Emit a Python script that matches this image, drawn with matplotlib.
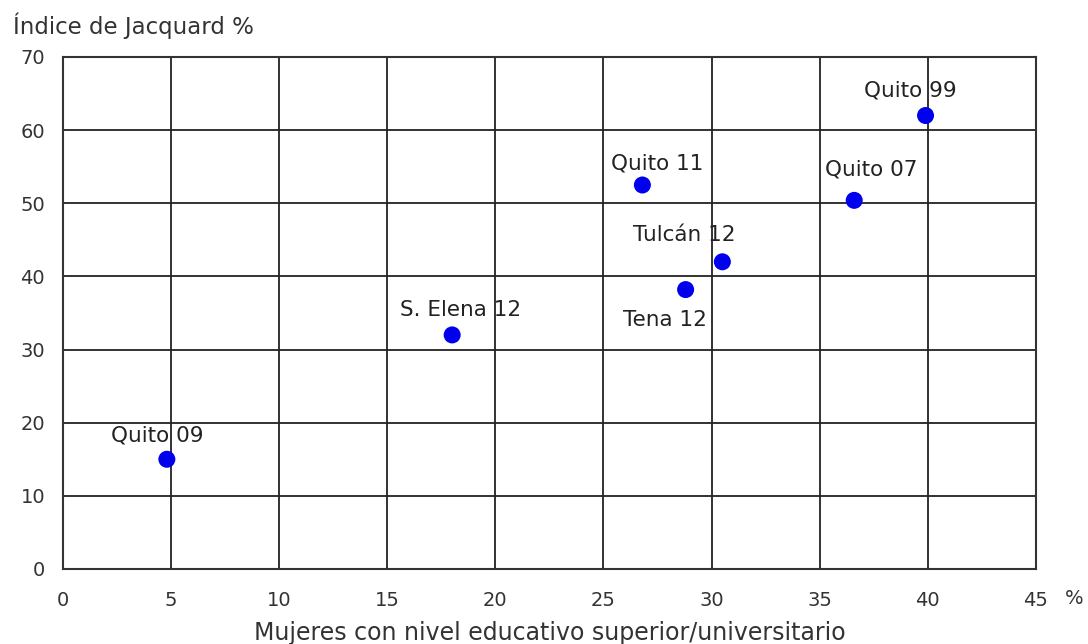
import matplotlib.pyplot as plt

# data
names = ['Quito 09', 'S. Elena 12', 'Quito 11', 'Tena 12', 'Tulcán 12', 'Quito 07', 'Quito 99']
mujeres = [4.8, 18.0, 26.8, 28.8, 30.5, 36.6, 39.9]
jacquard = [15.0, 32.0, 52.5, 38.2, 42.0, 50.4, 62.0]
# label offsets in pixels (dx, dy)
offsets = [(-10, 24), (8, 25), (15, 21), (-21, -30), (-38, 27), (17, 31), (-15, 25)]

xticks = [0, 5, 10, 15, 20, 25, 30, 35, 40, 45]
yticks = [0, 10, 20, 30, 40, 50, 60, 70]

fig = plt.figure(figsize=(10.88, 6.44), dpi=100)
ax = fig.add_axes([0.058, 0.1165, 0.894, 0.795])

ax.scatter(mujeres, jacquard, s=150, color='#0000ee', zorder=3, edgecolors='none')
for n, x, y, off in zip(names, mujeres, jacquard, offsets):
    ax.annotate(n, (x, y), xytext=off, textcoords='offset pixels',
                ha='center', va='center', fontsize=15.5, color='#222222')

ax.set_xlim(0, 45)
ax.set_ylim(0, 70)
ax.set_xticks(xticks)
ax.set_yticks(yticks)
ax.grid(True, color='#222222', linewidth=1.3)
for s in ax.spines.values():
    s.set_color('#333333')
    s.set_linewidth(1.5)
ax.tick_params(length=0, labelsize=14, colors='#333333')
ax.tick_params(axis='x', pad=16)
ax.tick_params(axis='y', pad=13)

ax.text(1.039, -0.057, '%', transform=ax.transAxes, fontsize=14, color='#333333',
        ha='center', va='center')
fig.text(0.012, 0.9596, 'Índice de Jacquard %', fontsize=16.5, color='#333333', va='center')
ax.set_xlabel('Mujeres con nivel educativo superior/universitario', fontsize=17,
              color='#333333')
ax.xaxis.set_label_coords(0.5, -0.125)
ax.xaxis.label.set_va('center')

fig.savefig('out.png', dpi=100)
